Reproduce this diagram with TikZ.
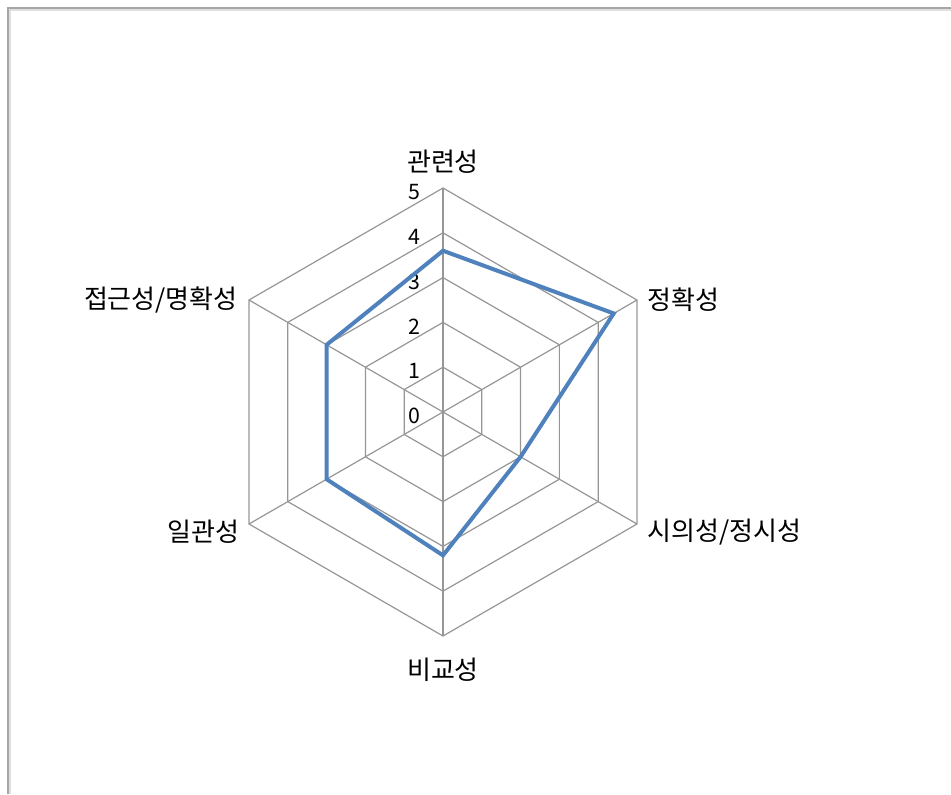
\documentclass[tikz,border=0pt]{standalone}
\usepackage{fontspec}
\setmainfont{Noto Sans CJK KR}
\usepackage{tikz}
\usetikzlibrary{positioning,calc}

\definecolor{seriesblue}{RGB}{79,129,189}
\definecolor{gridgray}{RGB}{150,150,150}

\begin{document}
\begin{tikzpicture}[
x=0.75pt, y=0.75pt,
grid/.style={draw=gridgray, line width=0.9pt},
series/.style={draw=seriesblue, line width=3pt, line join=miter},
axislabel/.style={font=\fontsize{19.5}{22}\selectfont, inner sep=0pt},
ticklabel/.style={font=\fontsize{16}{18}\selectfont, inner sep=0pt, anchor=east}
]
	\useasboundingbox (-443,-382) rectangle (508,412);
	% frame
	\draw [gray!70, line width=1.6pt] (-435,-382) -- (-435,404) -- (508,404);
	\draw [gray!25, line width=0.8pt] (-433,-382) -- (-433,402) -- (508,402);

	% rings
	\foreach \lvl in {1,...,5}
		\draw [grid] (90:44.8*\lvl) -- (30:44.8*\lvl) -- (-30:44.8*\lvl) -- (-90:44.8*\lvl) -- (-150:44.8*\lvl) -- (150:44.8*\lvl) -- cycle;

	% spokes
	\coordinate (c) at (0,0);
	\foreach \ang/\name in {90/a1, 30/a2, -30/a3, -90/a4, -150/a5, 150/a6} {
		\coordinate (\name) at (\ang:224);
		\draw [grid] (c) -- (\name);
	}

	% tick labels
	\foreach \lvl in {0,...,5}
		\node [ticklabel] at (-22,44.8*\lvl-4) (t\lvl) {\lvl};

	% data
	\coordinate (p1) at (90:44.8*3.6);
	\coordinate (p2) at (30:44.8*4.4);
	\coordinate (p3) at (-30:44.8*2.0);
	\coordinate (p4) at (-90:44.8*3.2);
	\coordinate (p5) at (-150:44.8*3.0);
	\coordinate (p6) at (150:44.8*3.0);
	\draw [series] (p1) -- (p2) -- (p3) -- (p4) -- (p5) -- (p6) -- cycle;

	% axis labels
	\node [axislabel, above=14 of a1] (rel) {관련성};
	\node [axislabel, right=10 of a2] (acc) {정확성};
	\node [axislabel, right=10 of a3, yshift=-6] (time) {시의성/정시성};
	\node [axislabel, below=22 of a4] (cmp) {비교성};
	\node [axislabel, left=9 of a5, yshift=-6] (cons) {일관성};
	\node [axislabel, left=11 of a6] (clar) {접근성/명확성};
\end{tikzpicture}
\end{document}
